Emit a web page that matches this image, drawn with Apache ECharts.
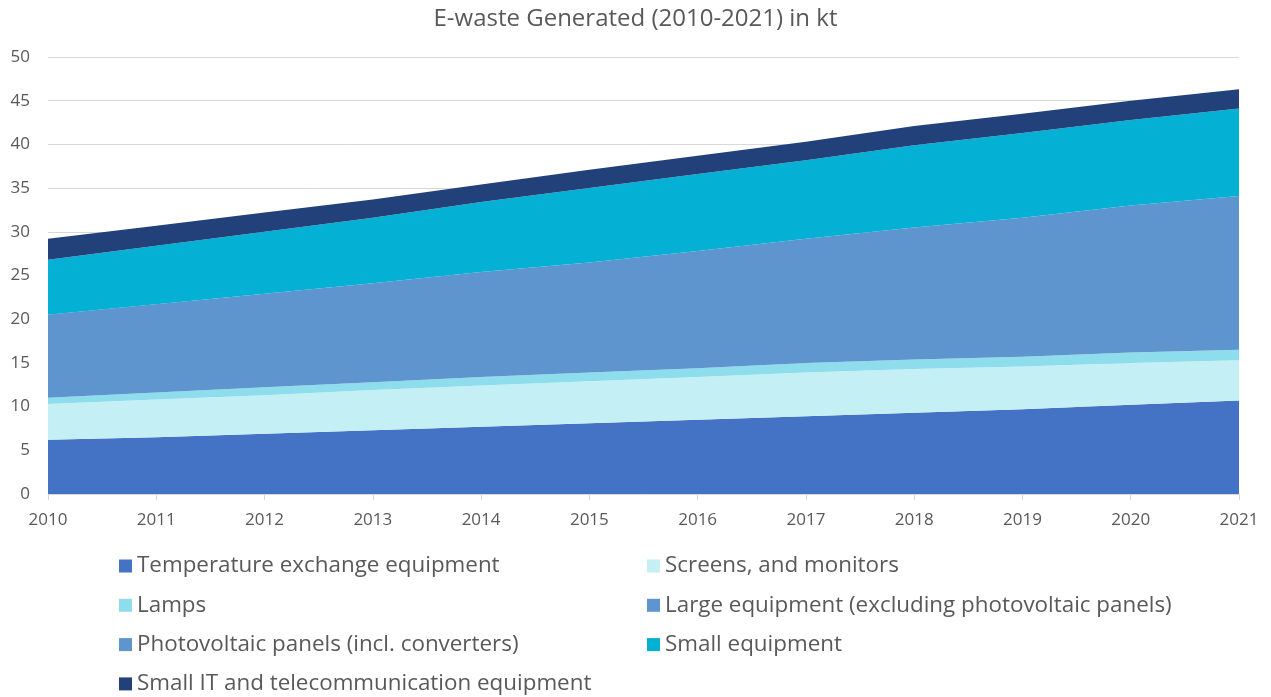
<!DOCTYPE html>
<html>
<head>
<meta charset="utf-8">
<script src="https://cdn.jsdelivr.net/npm/echarts@6/dist/echarts.min.js"></script>
<style>
  html, body { margin: 0; padding: 0; background: #fff; }
  #chart { width: 1271px; height: 697px; }
</style>
</head>
<body>
<div id="chart"></div>
<script>
// E-waste generated per category, kt
const years = ['2010','2011','2012','2013','2014','2015','2016','2017','2018','2019','2020','2021'];
const temperatureExchange = [6.2, 6.5, 6.9, 7.3, 7.7, 8.1, 8.5, 8.9, 9.3, 9.7, 10.2, 10.7];
const screensMonitors     = [4.1, 4.3, 4.4, 4.6, 4.7, 4.8, 4.9, 5.0, 5.0, 4.9, 4.8, 4.6];
const lamps               = [0.7, 0.8, 0.9, 0.9, 1.0, 1.0, 1.0, 1.1, 1.1, 1.1, 1.2, 1.2];
const largeEquipment      = [9.4, 10.0, 10.5, 11.1, 11.7, 12.3, 13.0, 13.7, 14.6, 15.3, 16.1, 16.8];
const photovoltaicPanels  = [0.1, 0.1, 0.2, 0.2, 0.3, 0.3, 0.4, 0.5, 0.5, 0.6, 0.7, 0.8];
const smallEquipment      = [6.3, 6.7, 7.1, 7.5, 8.0, 8.5, 8.8, 9.0, 9.4, 9.7, 9.8, 10.0];
const smallIT             = [2.4, 2.3, 2.2, 2.1, 2.0, 2.1, 2.1, 2.1, 2.2, 2.2, 2.2, 2.2];
const yTicks = [0, 50, 5];

const seriesDefs = [
  { name: 'Temperature exchange equipment', data: temperatureExchange, color: '#4472C4' },
  { name: 'Screens, and monitors', data: screensMonitors, color: '#C4EFF5' },
  { name: 'Lamps', data: lamps, color: '#8EDDEC' },
  { name: 'Large equipment (excluding photovoltaic panels)', data: largeEquipment, color: '#5E95CF', edge: 1.5 },
  { name: 'Photovoltaic panels (incl. converters)', data: photovoltaicPanels, color: '#5E95CF' },
  { name: 'Small equipment', data: smallEquipment, color: '#05B0D5' },
  { name: 'Small IT and telecommunication equipment', data: smallIT, color: '#22417A' }
];

const FONT = '"Open Sans", Lato, sans-serif';
const TXT = '#595959';

const chart = echarts.init(document.getElementById('chart'), null, { renderer: 'canvas' });

const legendBase = {
  orient: 'vertical',
  top: 550,
  height: 150,
  itemWidth: 13,
  itemHeight: 13,
  itemGap: 17.3,
  icon: 'rect',
  textStyle: { fontFamily: FONT, fontSize: 22.4, color: TXT, lineHeight: 22 },
  selectedMode: false
};

chart.setOption({
  animation: false,
  color: seriesDefs.map(s => s.color),
  title: {
    text: 'E-waste Generated (2010-2021) in kt',
    left: 'center',
    top: 2,
    textStyle: { fontFamily: FONT, fontSize: 24, fontWeight: 'normal', color: TXT }
  },
  legend: [
    Object.assign({}, legendBase, {
      left: 114,
      data: [seriesDefs[0].name, seriesDefs[2].name, seriesDefs[4].name, seriesDefs[6].name]
    }),
    Object.assign({}, legendBase, {
      left: 642,
      data: [seriesDefs[1].name, seriesDefs[3].name, seriesDefs[5].name]
    })
  ],
  grid: { left: 48, right: 32, top: 57, bottom: 203, containLabel: false },
  xAxis: {
    type: 'category',
    data: years,
    boundaryGap: false,
    axisLine: { lineStyle: { color: '#D9D9D9', width: 1 } },
    axisTick: { show: true, alignWithLabel: true, length: 6, lineStyle: { color: '#D9D9D9' } },
    axisLabel: { fontFamily: FONT, fontSize: 17, color: TXT, margin: 18 }
  },
  yAxis: {
    type: 'value',
    min: yTicks[0],
    max: yTicks[1],
    interval: yTicks[2],
    axisLine: { show: false },
    axisTick: { show: false },
    axisLabel: { fontFamily: FONT, fontSize: 17, color: TXT, margin: 18 },
    splitLine: { lineStyle: { color: '#D9D9D9', width: 1 } }
  },
  series: seriesDefs.map(s => ({
    name: s.name,
    type: 'line',
    stack: 'total',
    data: s.data,
    symbol: 'none',
    showSymbol: false,
    lineStyle: { width: s.edge || 0, color: s.color },
    areaStyle: { color: s.color, opacity: 1 },
    itemStyle: { color: s.color },
    emphasis: { disabled: true }
  }))
});
</script>
</body>
</html>
